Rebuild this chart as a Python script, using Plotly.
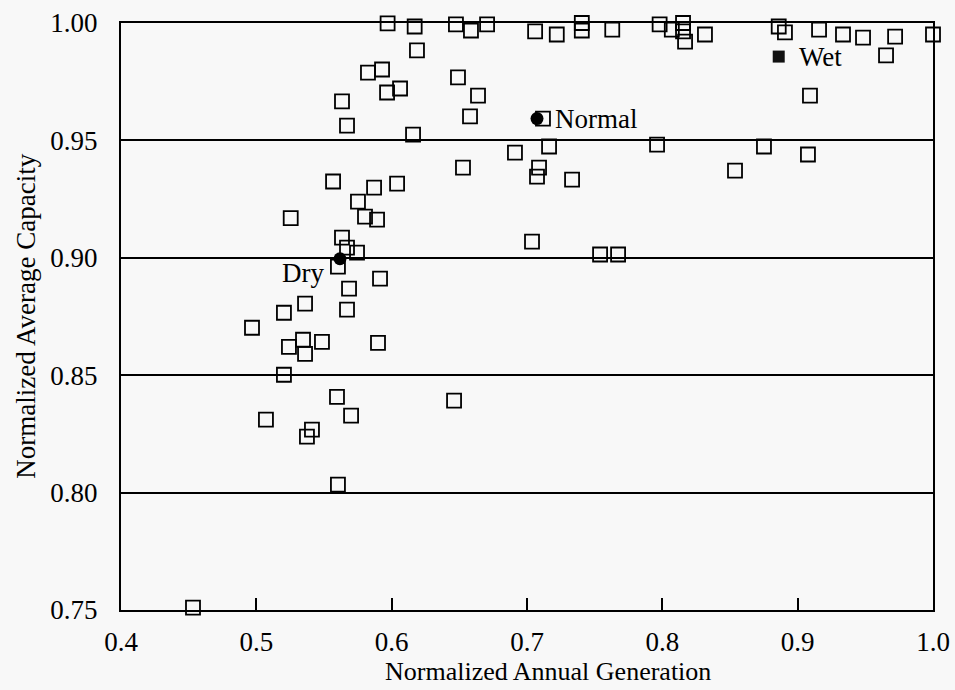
import plotly.graph_objects as go

# Scenario years (open squares)
gen = [0.597, 0.617, 0.6475, 0.6586, 0.6705, 0.706, 0.722, 0.7405, 0.7405, 0.763,
       0.798, 0.807, 0.8153, 0.8153, 0.8168, 0.8315, 0.886, 0.8906, 0.9158, 0.9335,
       0.9483, 0.972, 1.0, 0.9653,
       0.5633, 0.567, 0.5825, 0.5929, 0.5966, 0.6062, 0.6158, 0.6187, 0.649, 0.6638,
       0.6579, 0.7118, 0.9091,
       0.6911, 0.7163, 0.7089, 0.7074, 0.7333, 0.6527, 0.7961, 0.8751, 0.9076, 0.8537,
       0.5567, 0.587, 0.604, 0.5751, 0.5803, 0.5892, 0.5254,
       0.5633, 0.567, 0.5744, 0.5603, 0.5914, 0.5685, 0.567, 0.536, 0.5204, 0.4968,
       0.5241, 0.5345, 0.536, 0.5485, 0.5899, 0.5204, 0.5596, 0.57, 0.5411, 0.5374,
       0.5071, 0.5603, 0.4532, 0.6461, 0.7037, 0.754, 0.7673]
cap = [0.9998, 0.9985, 0.9994, 0.9968, 0.9994, 0.9964, 0.9951, 1.0, 0.9968, 0.9972,
       0.9994, 0.9972, 1.0, 0.9964, 0.9921, 0.9951, 0.9985, 0.996, 0.9972, 0.9951,
       0.9938, 0.9942, 0.9951, 0.9862,
       0.9666, 0.9563, 0.9789, 0.9802, 0.9704, 0.9721, 0.9525, 0.9883, 0.9768, 0.9691,
       0.9602, 0.9593, 0.9691,
       0.9448, 0.9474, 0.9384, 0.9346, 0.9333, 0.9384, 0.9482, 0.9474, 0.944, 0.9371,
       0.9325, 0.9299, 0.9316, 0.9239, 0.9175, 0.9163, 0.9169,
       0.9086, 0.9043, 0.9022, 0.8962, 0.8911, 0.8869, 0.8779, 0.8805, 0.8766, 0.8702,
       0.8621, 0.8651, 0.8591, 0.8642, 0.8638, 0.8502, 0.8408, 0.8328, 0.8268, 0.8238,
       0.8311, 0.8034, 0.751, 0.8392, 0.9069, 0.9014, 0.9014]

# Named scenarios
dry = (0.5618, 0.8996)
normal = (0.7074, 0.9593)
wet = (0.886, 0.9857)

x_ticks = [0.4, 0.5, 0.6, 0.7, 0.8, 0.9, 1.0]
y_ticks = [0.75, 0.80, 0.85, 0.90, 0.95, 1.00]
x_title = "Normalized Annual Generation"
y_title = "Normalized Average Capacity"

font_family = "Liberation Serif, Times New Roman, serif"
FS = 27

fig = go.Figure()
fig.add_trace(go.Scatter(
    x=gen, y=cap, mode="markers",
    marker=dict(symbol="square-open", size=14, color="black", line=dict(width=1.8, color="black")),
    cliponaxis=False, showlegend=False))
fig.add_trace(go.Scatter(
    x=[dry[0], normal[0]], y=[dry[1], normal[1]], mode="markers",
    marker=dict(symbol="circle", size=13, color="black"),
    cliponaxis=False, showlegend=False))
fig.add_trace(go.Scatter(
    x=[wet[0]], y=[wet[1]], mode="markers",
    marker=dict(symbol="square", size=12, color="#111"),
    cliponaxis=False, showlegend=False))

fig.add_annotation(x=normal[0], y=normal[1], text="Normal", showarrow=False,
                   xanchor="left", xshift=16, font=dict(size=FS, color="black", family=font_family))
fig.add_annotation(x=wet[0], y=wet[1], text="Wet", showarrow=False,
                   xanchor="left", xshift=18, font=dict(size=FS, color="black", family=font_family))
fig.add_annotation(x=dry[0], y=dry[1], text="Dry", showarrow=False,
                   xanchor="right", yanchor="top", xshift=-14, yshift=3,
                   font=dict(size=FS, color="black", family=font_family))

# axis titles placed as paper annotations
fig.add_annotation(xref="paper", yref="paper", x=0.526, y=-0.1329, text=x_title,
                   showarrow=False, xanchor="center", yanchor="bottom",
                   font=dict(size=26, color="black", family=font_family))
fig.add_annotation(xref="paper", yref="paper", x=-0.118, y=0.5, text=y_title, textangle=-90,
                   showarrow=False, xanchor="center", yanchor="middle",
                   font=dict(size=FS, color="black", family=font_family))

fig.update_layout(
    width=955, height=690,
    margin=dict(l=121, r=22, t=23, b=80),
    paper_bgcolor="#f8f8f8", plot_bgcolor="#f8f8f8",
    font=dict(family=font_family, size=FS, color="black"),
    xaxis=dict(range=[0.4, 1.0], tickvals=x_ticks, ticktext=[f"{v:.1f}" for v in x_ticks],
               ticks="inside", ticklen=12, tickwidth=1.5, tickcolor="black",
               showgrid=False, zeroline=False, automargin=False,
               showline=True, linecolor="black", linewidth=2, mirror=True,
               ticklabelstandoff=7, tickfont=dict(size=FS, family=font_family)),
    yaxis=dict(range=[0.75, 1.0], tickvals=y_ticks, ticktext=[f"{v:.2f}" for v in y_ticks],
               ticks="", showgrid=True, gridcolor="black", gridwidth=1.5,
               zeroline=False, automargin=False,
               showline=True, linecolor="black", linewidth=2, mirror=True,
               ticklabelstandoff=16, tickfont=dict(size=FS, family=font_family)),
)

fig.write_html("out.html")
